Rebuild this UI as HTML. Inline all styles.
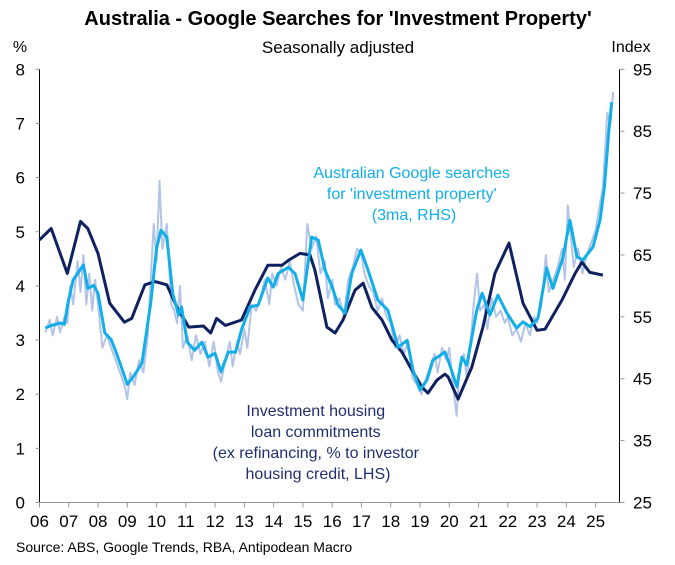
<!DOCTYPE html>
<html><head><meta charset="utf-8"><style>
body{margin:0;background:#fff;}
svg{display:block;font-family:"Liberation Sans",Arial,sans-serif;}
</style></head><body>
<svg id="chart" width="675" height="565" viewBox="0 0 675 565">
<text x="338" y="25" text-anchor="middle" font-size="20" font-weight="bold" fill="#000">Australia - Google Searches for 'Investment Property'</text>
<text x="338" y="53" text-anchor="middle" font-size="17" fill="#000">Seasonally adjusted</text>
<text x="20" y="52" text-anchor="middle" font-size="16" fill="#000">%</text>
<text x="631" y="52" text-anchor="middle" font-size="16" fill="#000">Index</text>
<g id="axes"></g>
<g id="series"></g>
<text text-anchor="middle" font-size="16" fill="#12aee8">
<tspan x="414" y="178">Australian Google searches</tspan>
<tspan x="414" y="199">for 'investment property'</tspan>
<tspan x="414" y="220">(3ma, RHS)</tspan></text>
<text text-anchor="middle" font-size="16" fill="#1f2f6e">
<tspan x="318" y="416">Investment housing</tspan>
<tspan x="318" y="437">loan commitments</tspan>
<tspan x="318" y="458">(ex refinancing, % to investor</tspan>
<tspan x="318" y="479">housing credit, LHS)</tspan></text>
<text x="16" y="552" font-size="14" fill="#000">Source: ABS, Google Trends, RBA, Antipodean Macro</text>
</svg>
<script>
const yearTicks = ["06","07","08","09","10","11","12","13","14","15","16","17","18","19","20","21","22","23","24","25"];
const leftTicks = [0,1,2,3,4,5,6,7,8];
const rightTicks = [25,35,45,55,65,75,85,95];
const loanYears = [2006.0,2006.4,2006.95,2007.4,2007.65,2008.0,2008.4,2008.9,2009.15,2009.6,2009.95,2010.35,2010.7,2011.1,2011.6,2011.85,2012.05,2012.35,2012.68,2012.9,2013.36,2013.8,2014.28,2014.5,2014.9,2015.24,2015.41,2015.82,2016.1,2016.37,2016.78,2017.06,2017.36,2017.7,2018.04,2018.38,2018.72,2019.07,2019.27,2019.58,2019.85,2019.96,2020.3,2020.77,2021.15,2021.56,2022.04,2022.52,2023.0,2023.27,2023.85,2024.3,2024.53,2024.8,2025.25];
const loanValues = [4.85,5.06,4.23,5.19,5.06,4.6,3.68,3.33,3.4,4.02,4.08,4.02,3.6,3.24,3.26,3.13,3.4,3.27,3.33,3.37,3.92,4.38,4.38,4.47,4.6,4.57,4.29,3.24,3.13,3.37,3.92,4.05,3.6,3.37,3.0,2.78,2.45,2.13,2.02,2.26,2.37,2.32,1.91,2.5,3.24,4.23,4.79,3.68,3.18,3.2,3.74,4.23,4.44,4.25,4.2];
const smoothYears = [2006.2,2006.4,2006.55,2006.7,2006.85,2006.97,2007.15,2007.3,2007.5,2007.65,2007.85,2008.0,2008.23,2008.45,2008.6,2008.75,2009.0,2009.2,2009.5,2009.8,2010.0,2010.15,2010.35,2010.55,2010.75,2010.85,2011.05,2011.3,2011.55,2011.75,2012.0,2012.2,2012.45,2012.7,2012.9,2013.19,2013.47,2013.8,2013.98,2014.15,2014.5,2014.73,2015.0,2015.3,2015.52,2015.75,2016.0,2016.2,2016.44,2016.67,2016.98,2017.22,2017.56,2017.9,2018.25,2018.56,2018.76,2019.0,2019.24,2019.44,2019.85,2019.96,2020.26,2020.43,2020.6,2020.94,2021.12,2021.39,2021.66,2021.97,2022.3,2022.52,2022.76,2023.03,2023.33,2023.54,2023.88,2024.12,2024.36,2024.57,2024.91,2025.15,2025.3,2025.45,2025.55];
const smoothValues = [53.2,53.6,53.8,54,53.8,57.2,61,62,63.4,59.6,60.1,58.8,52.4,51.3,49.5,47.5,44.1,45.3,47.5,57.2,66.1,69,67.9,58.8,55.3,56.6,50.9,49.6,50.9,48.5,49.1,46.1,49.3,49.3,52.9,56.6,56.9,61.3,59.8,62,63,62,57.7,67.9,67.4,62.6,59.8,56.9,55.6,62,65.8,62.6,57.7,56.1,50.1,51.2,46.4,43.2,44.8,48,49.3,48,43.7,48.5,47.2,56.1,58.8,55.3,58.5,55.6,53.2,54.2,53.4,54.8,62.9,59.6,64.5,70.6,64.7,64.2,66.3,70.6,76,85,89.7];
const rawYears = [2006.2,2006.35,2006.45,2006.6,2006.7,2006.85,2006.95,2007.05,2007.15,2007.3,2007.4,2007.5,2007.6,2007.7,2007.8,2007.9,2008.0,2008.15,2008.3,2008.45,2008.6,2008.75,2008.9,2009.0,2009.1,2009.25,2009.4,2009.55,2009.7,2009.8,2009.9,2010.0,2010.1,2010.2,2010.35,2010.5,2010.6,2010.7,2010.8,2010.9,2011.05,2011.2,2011.35,2011.5,2011.65,2011.8,2011.95,2012.1,2012.2,2012.35,2012.5,2012.6,2012.75,2012.85,2013.0,2013.1,2013.25,2013.4,2013.55,2013.7,2013.85,2013.95,2014.1,2014.25,2014.4,2014.55,2014.7,2014.85,2015.0,2015.15,2015.3,2015.45,2015.6,2015.75,2015.85,2016.0,2016.1,2016.25,2016.4,2016.55,2016.7,2016.85,2017.0,2017.1,2017.25,2017.4,2017.55,2017.7,2017.85,2018.0,2018.15,2018.3,2018.45,2018.6,2018.75,2018.9,2019.05,2019.2,2019.35,2019.5,2019.6,2019.75,2019.9,2020.0,2020.1,2020.25,2020.35,2020.5,2020.6,2020.75,2020.85,2020.95,2021.05,2021.2,2021.3,2021.45,2021.6,2021.75,2021.9,2022.0,2022.15,2022.3,2022.45,2022.6,2022.75,2022.9,2023.0,2023.15,2023.3,2023.4,2023.55,2023.7,2023.85,2023.95,2024.05,2024.15,2024.25,2024.4,2024.55,2024.7,2024.85,2025.0,2025.1,2025.25,2025.4,2025.5,2025.6];
const rawValues = [52.5,54.5,52,55,52.5,55,54,60,57,64,59,65,57,62,56,61,57,50,52,50,48,46,44,41.7,46,44,48,46,52,61,70,64,77,66,70,57,56,54,60,50,52,48,52,49,51,47,51,46,44.5,48,51,47,51,49,53,50,57,56,58,61,57,62,60,63,61,64,60,57,56,70,66,68,62,64,58,61,57,58,55,61,63,66,65,62,60,59,56,58,55,54,50,52,49,51,45,44,42.5,45,47,49,46,50,48,50,45,39,47,49,45,52,58,62,56,57,53,58,55,56,54,55,52,53,51,54,52,55,54,57,65,59,61,63,66,61,73,68,63,66,62,65,67,69,72,76,88,86,91.4];

const X0=39.5, X1=619.5, Y0=502.5, YT=69.3;
const xS = y => X0 + (y-2006)*29.27;
const yL = v => Y0 - v*(Y0-YT)/8;
const yR = v => Y0 - (v-25)*(Y0-YT)/70;
const NS="http://www.w3.org/2000/svg";
function mk(tag, attrs, parent){const e=document.createElementNS(NS,tag);for(const k in attrs)e.setAttribute(k,attrs[k]);parent.appendChild(e);return e;}
const ax=document.getElementById('axes'), se=document.getElementById('series');
let e;
e=mk('line',{x1:X0,y1:YT,x2:X0,y2:Y0,stroke:'#000','stroke-width':1},ax);


e=mk('line',{x1:X1,y1:YT,x2:X1,y2:Y0,stroke:'#000','stroke-width':1},ax);


e=mk('line',{x1:X0,y1:Y0,x2:X1,y2:Y0,stroke:'#999','stroke-width':1},ax);


leftTicks.forEach(v=>{
  mk('line',{x1:X0-4,y1:yL(v),x2:X0,y2:yL(v),stroke:'#999'},ax);
  e=mk('text',{x:25,y:yL(v)+6,'text-anchor':'end','font-size':17,fill:'#000'},ax);
  e.textContent=v;
  
  
});
rightTicks.forEach(v=>{
  mk('line',{x1:X1,y1:yR(v),x2:X1+5,y2:yR(v),stroke:'#999'},ax);
  e=mk('text',{x:633,y:yR(v)+6,'font-size':17,fill:'#000'},ax);
  e.textContent=v;
  
  
});
yearTicks.forEach((t,i)=>{
  const x=xS(2006+i);
  mk('line',{x1:x,y1:Y0,x2:x,y2:Y0+5,stroke:'#999'},ax);
  e=mk('text',{x:x,y:527,'text-anchor':'middle','font-size':17,fill:'#000'},ax);
  e.textContent=t;
  
  
});
function pts(xs,vs,f){return xs.map((y,i)=>xS(y).toFixed(1)+','+f(vs[i]).toFixed(1)).join(' ');}
e=mk('polyline',{points:pts(rawYears,rawValues,yR),fill:'none',stroke:'#b4c4e6','stroke-width':2,'stroke-linejoin':'round'},se);


e=mk('polyline',{points:pts(loanYears,loanValues,yL),fill:'none',stroke:'#0f2160','stroke-width':3,'stroke-linejoin':'round'},se);


e=mk('polyline',{points:pts(smoothYears,smoothValues,yR),fill:'none',stroke:'#12aee8','stroke-width':3,'stroke-linejoin':'round'},se);


</script>
</body></html>
